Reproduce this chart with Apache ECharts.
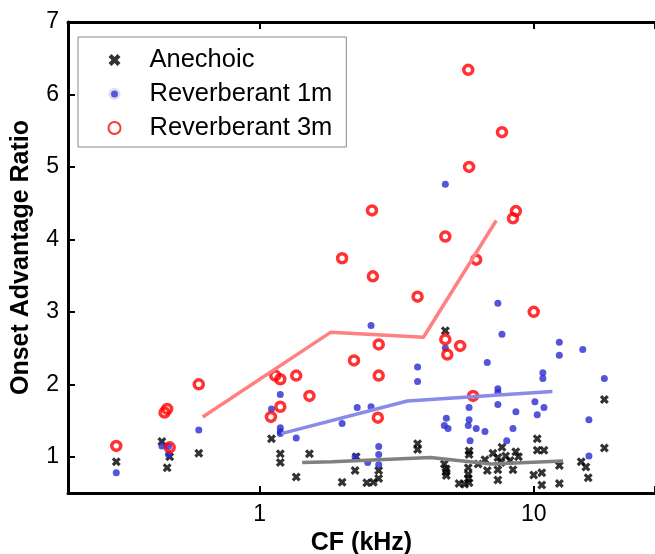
<!DOCTYPE html>
<html>
<head>
<meta charset="utf-8">
<script src="https://cdn.jsdelivr.net/npm/echarts@6/dist/echarts.min.js"></script>
<style>
  html, body { margin: 0; padding: 0; background: #fff; }
  #chart { width: 655px; height: 554px; }
</style>
</head>
<body>
<div id="chart"></div>
<script>
// Anechoic (black x)
var anechoicCF = [0.30, 0.44, 0.46, 0.47, 0.60, 1.105, 1.19, 1.19, 1.36, 1.52, 2.00, 2.23, 2.25, 2.46, 2.60, 2.72, 2.72,
  3.77, 3.77, 4.72, 4.80, 4.78, 4.80, 4.76, 5.34, 5.60, 5.81, 5.81, 5.77, 5.77, 5.77, 5.81, 6.27, 6.64, 6.77,
  7.1, 7.4, 7.4, 7.4, 7.6, 7.66, 7.9, 8.2, 8.4, 8.6, 8.8, 10.0, 10.3, 10.3, 10.7, 10.7, 10.9, 12.4, 12.4,
  14.9, 15.5, 15.8, 18.1, 18.1];
var anechoicRatio = [0.93, 1.21, 0.85, 1.00, 1.05, 1.25, 1.04, 0.92, 0.72, 1.04, 0.65, 0.81, 1.00, 0.64, 0.65, 0.70, 0.81,
  1.18, 1.10, 0.90, 0.83, 0.79, 0.74, 2.74, 0.63, 0.62, 1.08, 1.03, 0.85, 0.76, 0.70, 0.64, 0.90, 0.96, 0.81,
  1.05, 0.99, 0.82, 0.68, 0.92, 1.13, 1.01, 0.95, 0.82, 1.07, 1.00, 0.75, 1.25, 1.09, 0.78, 0.61, 1.09, 0.88, 0.63,
  0.93, 0.86, 0.71, 1.79, 1.12];

// Reverberant 1m (blue dots)
var rev1CF = [0.30, 0.44, 0.465, 0.465, 0.60, 1.105, 1.19, 1.19, 1.19, 1.19, 1.36, 2.00, 2.23, 2.27, 2.48, 2.55, 2.55,
  2.72, 2.72, 2.72, 3.77, 3.77, 4.72, 4.76, 4.76, 4.80, 4.87, 5.77, 5.81, 5.81, 5.86, 6.17, 6.64, 6.77,
  7.4, 7.4, 7.4, 7.4, 7.66, 7.97, 8.4, 8.61, 10.1, 10.3, 10.8, 10.8, 10.9, 12.4, 12.4, 15.1, 15.9, 15.9, 18.1];
var rev1Ratio = [0.78, 1.15, 1.14, 1.03, 1.37, 1.66, 1.86, 1.40, 1.35, 1.32, 1.26, 1.46, 1.00, 1.68, 0.92, 1.69, 2.81,
  1.14, 1.03, 0.89, 2.24, 2.04, 1.43, 4.76, 2.50, 1.53, 1.39, 1.43, 1.68, 1.51, 1.22, 1.39, 1.35, 2.30,
  3.12, 1.94, 1.89, 1.72, 2.69, 1.22, 1.39, 1.62, 1.76, 1.58, 2.16, 2.08, 1.68, 2.58, 2.40, 2.48, 1.51, 1.01, 2.08];

// Reverberant 3m (red circles)
var rev3CF = [0.30, 0.45, 0.46, 0.47, 0.60, 1.10, 1.14, 1.19, 1.19, 1.36, 1.52, 2.00, 2.21, 2.57, 2.59, 2.70, 2.72, 2.72,
  3.77, 4.76, 4.76, 4.84, 5.39, 5.77, 5.81, 6.01, 6.17, 7.66, 8.40, 8.61, 10.0];
var rev3Ratio = [1.15, 1.61, 1.66, 1.13, 2.00, 1.55, 2.12, 2.07, 1.69, 2.12, 1.84, 3.74, 2.33, 4.40, 3.49, 1.54, 2.55, 2.12,
  3.21, 4.04, 2.62, 2.41, 2.53, 6.34, 5.00, 1.84, 3.72, 5.48, 4.29, 4.39, 3.00];

// mean lines
var meanAneCF = [1.43, 1.84, 4.2, 5.3, 7.0, 12.8];
var meanAneRatio = [0.92, 0.93, 0.99, 0.95, 0.90, 0.94];
var meanRev1CF = [1.2, 3.46, 11.7];
var meanRev1Ratio = [1.32, 1.77, 1.90];
var meanRev3CF = [0.62, 1.82, 3.96, 7.3];
var meanRev3Ratio = [1.55, 2.72, 2.65, 4.26];

function zip(a, b) {
  return a.map(function (v, i) { return [v, b[i]]; });
}

function isPow10(v) {
  var l = Math.log10(v);
  return Math.abs(l - Math.round(l)) < 1e-6;
}

var FONT = 'Liberation Sans, Arial, sans-serif';
var crossPath = 'path://M2.5,0 L5,2.5 L7.5,0 L10,2.5 L7.5,5 L10,7.5 L7.5,10 L5,7.5 L2.5,10 L0,7.5 L2.5,5 L0,2.5 Z';

var chart = echarts.init(document.getElementById('chart'), null, { renderer: 'canvas' });

// fresh objects for every axis, the picture cuts the axis at ~27.7 kHz
function makeXAxis(position) {
  return {
    type: 'log',
    position: position,
    min: 0.2,
    max: 27.7,
    splitLine: { show: false },
    axisLine: { show: true, onZero: false, lineStyle: { color: '#000', width: 3 } },
    axisTick: { show: true, inside: true, length: 7, lineStyle: { color: '#000', width: 2 } },
    minorTick: { show: false }
  };
}

var xBottom = makeXAxis('bottom');
xBottom.name = 'CF (kHz)';
xBottom.nameLocation = 'middle';
xBottom.nameGap = 32;
xBottom.nameTextStyle = { fontFamily: FONT, fontSize: 25, fontWeight: 'bold', color: '#000' };
xBottom.axisLabel = {
  margin: 10, fontFamily: FONT, fontSize: 23, color: '#000',
  formatter: function (v) { return isPow10(v) ? String(Math.round(v)) : ''; }
};

var xTop = makeXAxis('top');
xTop.axisLabel = { show: false };

var option = {
  backgroundColor: '#fff',
  animation: false,
  grid: { left: 68, top: 22, right: 0, bottom: 61, outerBoundsMode: 'none' },
  legend: {
    orient: 'vertical',
    left: 78,
    top: 37,
    padding: [10, 14, 6, 28],
    itemGap: 8,
    itemWidth: 60,
    itemHeight: 12,
    borderColor: '#888',
    borderWidth: 1,
    backgroundColor: '#fff',
    textStyle: { fontFamily: FONT, fontSize: 25.5, color: '#000' },
    data: [
      'Anechoic',
      { name: 'Reverberant 1m', itemStyle: { borderColor: '#fff', borderWidth: 5 } },
      'Reverberant 3m'
    ]
  },
  xAxis: [xBottom, xTop],
  yAxis: {
    type: 'value',
    min: 0.5,
    max: 7,
    name: 'Onset Advantage Ratio',
    nameLocation: 'middle',
    nameGap: 34,
    nameTextStyle: { fontFamily: FONT, fontSize: 25, fontWeight: 'bold', color: '#000' },
    splitLine: { show: false },
    axisLine: { show: true, lineStyle: { color: '#000', width: 3 } },
    axisTick: { show: true, inside: true, length: 7, lineStyle: { color: '#000', width: 2 } },
    axisLabel: {
      margin: 9, fontFamily: FONT, fontSize: 23, color: '#000',
      formatter: function (v) { return v % 1 === 0 ? String(v) : ''; }
    }
  },
  series: [
    {
      name: 'Anechoic',
      type: 'scatter',
      symbol: crossPath,
      symbolSize: 9,
      itemStyle: { color: '#000' },
      data: zip(anechoicCF, anechoicRatio),
      z: 2
    },
    {
      name: 'Reverberant 1m',
      type: 'scatter',
      symbol: 'circle',
      symbolSize: 7,
      itemStyle: { color: '#2b2bd0' },
      data: zip(rev1CF, rev1Ratio),
      z: 3
    },
    {
      name: 'Reverberant 3m',
      type: 'scatter',
      symbol: 'circle',
      symbolSize: 9,
      itemStyle: { color: 'rgba(255,255,255,0)', borderColor: '#ff0000', borderWidth: 3.5 },
      data: zip(rev3CF, rev3Ratio),
      z: 4
    },
    {
      name: 'mean anechoic',
      type: 'line',
      symbol: 'none',
      silent: true,
      lineStyle: { color: '#808080', width: 3.5 },
      data: zip(meanAneCF, meanAneRatio),
      z: 5
    },
    {
      name: 'mean 1m',
      type: 'line',
      symbol: 'none',
      silent: true,
      lineStyle: { color: '#8a8ae8', width: 3.5 },
      data: zip(meanRev1CF, meanRev1Ratio),
      z: 5
    },
    {
      name: 'mean 3m',
      type: 'line',
      symbol: 'none',
      silent: true,
      lineStyle: { color: '#ff8080', width: 3.5 },
      data: zip(meanRev3CF, meanRev3Ratio),
      z: 5
    }
  ]
};

chart.setOption(option);
</script>
</body>
</html>
